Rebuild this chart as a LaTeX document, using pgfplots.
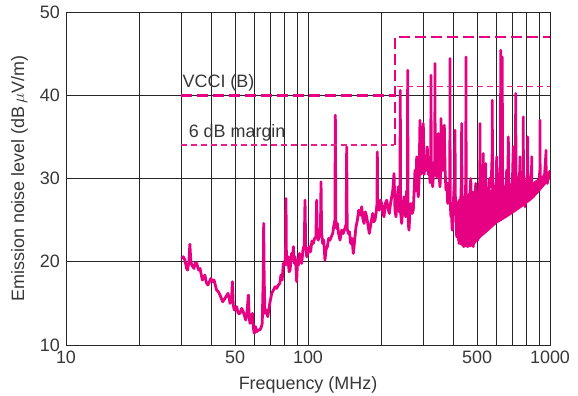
\documentclass[border=0pt]{standalone}
\usepackage{pgfplots}
\pgfplotsset{compat=1.18}
\usepackage{fontspec}
\setmainfont{Liberation Sans}
\definecolor{mag}{RGB}{230,0,130}
\definecolor{magl}{RGB}{232,30,140}
\definecolor{txt}{RGB}{55,55,55}
\begin{document}
\fontsize{18}{21}\selectfont
\begin{tikzpicture}
\useasboundingbox (-66bp,-51bp) rectangle (512bp,345bp);
\begin{axis}[
 scale only axis, width=484bp, height=333bp,
 xmode=log, xmin=10, xmax=1000, ymin=10, ymax=50,
 xtick={10,50,100,500,1000}, xticklabels={10,50,100,500,1000},
 minor xtick={20,30,40,60,70,80,90,200,300,400,600,700,800,900},
 ytick={10,20,30,40,50},
 grid=both,
 major grid style={black!85, line width=0.6bp},
 minor grid style={black!85, line width=0.6bp},
 axis line style={black!85, line width=0.6bp},
 major tick length=0pt, minor tick length=0pt,
 tick label style={font=\fontsize{18}{21}\selectfont, text=txt},
 /pgf/number format/assume math mode=true,
 xlabel={Frequency (MHz)},
 ylabel={Emission noise level (dB\,$\mu$V/m)},
 label style={font=\fontsize{18}{21}\selectfont, text=txt},
 clip=true,
]
% dense band
\addplot[mag, fill=mag, line width=0.5bp] coordinates {
(410,27)(420,27.5)(450,28)(480,28.5)(520,28)(560,28.5)(600,29)(650,29)(700,29.5)(750,29.5)(800,29.5)(850,29.5)(900,30)(950,30.5)(1000,31)
(1000,30)(950,29.2)(900,28.4)(850,27.6)(800,27)(750,26.4)(700,25.8)(650,25.2)(600,24.6)(560,23.8)(520,23)(490,22.2)(470,21.8)(440,21.8)(420,22.2)(410,23.2)
} -- cycle;
% measured emission
\addplot[mag, line width=2.8bp, line join=round] coordinates {
(30.0,20.4)(30.5,20.6)(31.0,20.2)(31.5,19.2)(31.8,19.0)(32.2,20.0)(32.5,22.1)(32.8,20.0)(33.1,19.6)(33.8,19.2)(34.2,19.9)(34.7,19.8)(35.3,19.0)(35.8,19.2)(36.6,17.8)(37.5,18.4)(38.0,17.5)(38.6,17.2)(39.7,18.0)(40.3,17.6)(40.9,17.8)(41.9,16.6)(42.6,16.4)(43.3,16.0)(44.4,15.2)(45.4,15.6)(46.7,16.2)(47.3,15.6)(47.6,15.0)(48.3,15.4)(48.7,17.6)(49.1,14.8)(49.6,14.2)(50.7,14.6)(51.5,13.8)(52.4,13.8)(53.2,14.4)(54.0,14.0)(55.3,13.0)(56.0,14.0)(56.7,16.0)(57.2,13.2)(57.6,12.6)(58.9,13.8)(59.5,12.0)(60.0,11.4)(60.7,12.2)(61.4,11.6)(62.3,11.8)(63.3,11.8)(64.2,12.2)(64.7,12.6)(65.3,18)(65.6,24.6)(65.9,18)(66.4,13.8)(67.3,14.2)(68.2,13.4)(69.5,15.0)(70.8,16.2)(72.0,16.6)(73.1,17.0)(74.2,16.8)(75.4,17.2)(76.5,17.4)(77.3,18.4)(78.2,17.8)(79.1,19.8)(80.2,19.6)(80.8,21)(81.1,27.6)(81.4,21)(82.0,19.6)(82.9,20.6)(83.5,18.8)(84.3,19.0)(85.5,21.0)(86.3,20.4)(87.0,21.8)(87.8,19.8)(88.4,20.6)(89.2,19.4)(89.8,17.6)(90.5,20.2)(91.3,19.6)(92.1,21.0)(93.0,20.2)(94.2,19.8)(95.3,21.4)(96.5,22)(97.2,27.4)(97.8,22)(98.8,20.6)(100.0,21.0)(101.2,21.8)(102.5,21.2)(103.8,22.5)(105.2,22.2)(106.5,22.8)(107.8,23)(108.6,27.4)(109.2,23)(110.3,22.6)(111.6,23.4)(112.6,24)(113.2,29.6)(113.8,23.5)(115.0,22.2)(116.2,22.6)(117.5,20.2)(118.8,21.5)(120.2,21.8)(121.7,22.8)(123.3,22.6)(124.8,23.0)(126.5,23.4)(128.0,24.4)(129.2,25)(129.7,37.6)(130.3,25)(131.2,24.0)(132.2,24.6)(133.8,23.4)(135.6,22.6)(137.8,23.8)(139.9,23.4)(142.0,24.0)(143.8,24.5)(144.5,33.8)(145.2,24)(146.7,23.4)(148.4,23.6)(150.1,22.2)(152.0,22.8)(153.9,21.0)(155.9,22.6)(157.9,24.2)(160.0,25.0)(162.0,26.2)(164.3,25.6)(166.7,26.6)(168.5,25.2)(170.4,24.6)(172.6,26.0)(174.8,25.4)(177.0,24.4)(179.2,23.4)(182.0,24.6)(185.1,25.8)(187.1,24.8)(189.2,25.0)(191.5,26)(192.8,27)(193.4,33.2)(194.0,27)(195.3,26.5)(197.1,26.2)(199.3,27.4)(201.6,27.0)(203.8,25.8)(206.1,25.4)(208.7,27.0)(211.4,27.4)(214.1,26.4)(216.8,25.8)(219.3,27.0)(221.8,27.8)(224.0,28.5)(226.7,30.6)(228.8,26.2)(231.0,25.4)
(233.5,27.5)(236.1,29.0)(238.0,26.0)(239.9,27.0)(240.6,40.6)(241.3,26)(243.9,24.6)(246.5,26.5)(249.3,27.8)(251.2,26.0)(253.3,25.4)(255.5,28.5)(257.4,27)(258.2,43.0)(259.0,26)(260.4,24.2)(261.4,23.8)(263.8,26.0)(266.4,27.0)(269.3,25.8)(272.3,26.2)(274.5,28.5)(276.8,31.0)(279.0,28.5)(281.3,32.6)(283.3,29.0)(285.6,27.8)(287.8,30.0)(290.3,37.0)(292.6,30.5)(295.0,31.4)(297.2,32.5)(299.5,36.6)(302.0,30.5)(304.4,31.8)(307.8,31.0)(311.1,33.8)(314.0,30.5)(317.1,31.0)(319.5,29.5)(321.6,30.5)(322.3,42.4)(323.0,30)(325.0,31.5)(327.5,29.0)(330.0,30.5)(332.0,32)(334.2,32)(334.8,43.8)(335.4,31)(337.5,31.5)(340.2,30.2)(342.8,32)(345.5,35.4)(348.0,30.5)(351.1,29.0)(353.5,31)(354.5,37.2)(356.8,32)(360.2,31.0)(363.0,33)(365.8,36.4)(368.5,31)(371.7,28.6)(374.8,29.5)(377.8,27.0)(380.5,28.5)(383.5,28)(385.6,29)(386.2,44.4)(386.8,28)(388.0,26.5)(389.8,25.4)(392.0,25.5)(394.7,23.8)(398.0,26.5)(401.5,29)(403.8,30)(404.9,35.8)(406.2,28)(408.5,25.5)(411.6,23.0)(415.5,26.0)(420.7,22.2)(424.5,25.5)(428.5,28)(430.5,30)(431.6,36.6)(432.7,28)(435.5,25)(439.9,21.8)(443.5,25)(447.0,28)(448.9,30)(449.6,44.6)(450.3,30)(453.0,24)(456.9,21.8)(460.5,25)(464.5,27)(468.5,29)(470.5,30)(471.6,28.6)
(474.5,24)(477.4,23.0)(480,25)(482.0,21.8)(486,26)(490,27)(493.2,29.4)(497,25)(502.7,22.6)(507,27)(511,29)(513.0,30)(513.7,36.6)(514.5,29)(518,25)(522.1,25.4)(526,28)(529.5,30)(530.1,33.0)(531,28)(535,26)(538.7,24.2)(540.5,28)(542.3,31.8)(544.5,27)(548,26)(552.8,24.6)(558,28)(563,30)(565.0,29.8)(570,29)(574,31)(576.8,33)(577.5,39.4)(578.3,30)(583,27)(588.6,25.0)(594,28)(600,30)(602.3,32.6)(605,28)(611.5,25.4)(616,28)(621,30)(624.8,32)(625.6,45.4)(626.4,32)(630,29)(634.5,32)(635.2,44.6)(636,30)(640,27)(645.6,26.6)(650,29)(655,28)(660,30)(662.4,31.0)(666,28)(670,29.5)(672.6,35.0)(675,29)(679,27.5)(683.5,26.6)(688,29)(694,28)(700,30)(705.4,33.8)(709,28)(714,29)(720,31)(721.7,40.2)(723.5,30)(728,28)(732.8,26.6)(738,29)(744,30)(750.5,31)(751.6,32.6)(753,29)(758,28)(764.0,27.0)(770,29.5)(775,31)(775.7,37.4)(776.5,30)(782,28.5)(788.4,26.6)(795,29)(802,30)(808.2,31)(808.9,35.0)(809.7,30)(814,28.5)(818.9,27.8)(825,29.5)(832,30)(839.5,31)(840.3,32.6)(841,29.5)(847,28.5)(853.1,27.8)(860,29)(867,28.5)(875.3,29.4)(885,29)(894.8,28.6)(902,30)(908.5,31)(909.4,37.0)(910.3,30)(917,29.5)(924.1,29.0)(933,30)(941.9,30.2)(950,30.5)(955,31.5)(962,33)(962.7,33.4)(964,30.5)(970,30)(974.6,29.4)(982,30.2)(990,30.4)(1000,30.6)
};
% VCCI (B) limit
\addplot[mag, line width=2.8bp, dash pattern=on 11bp off 5bp] coordinates {(30,40)(229,40)};
\addplot[mag, line width=2.8bp, dash pattern=on 11bp off 5bp] coordinates {(229,34)(229,47)(1000,47)};
% 6 dB margin
\addplot[magl, line width=1.6bp, dash pattern=on 6bp off 4bp] coordinates {(30,34.05)(226,34.05)};
\addplot[magl, line width=1.6bp, dash pattern=on 6bp off 4bp] coordinates {(233,41.05)(1000,41.05)};
\node[anchor=south west, inner sep=1bp, text=txt, font=\fontsize{18}{21}\selectfont] at (axis cs:30,40.3) {VCCI (B)};
\node[anchor=south west, inner sep=1bp, text=txt, font=\fontsize{18}{21}\selectfont] at (axis cs:31.8,34.3) {6 dB margin};
\end{axis}
\end{tikzpicture}
\end{document}
